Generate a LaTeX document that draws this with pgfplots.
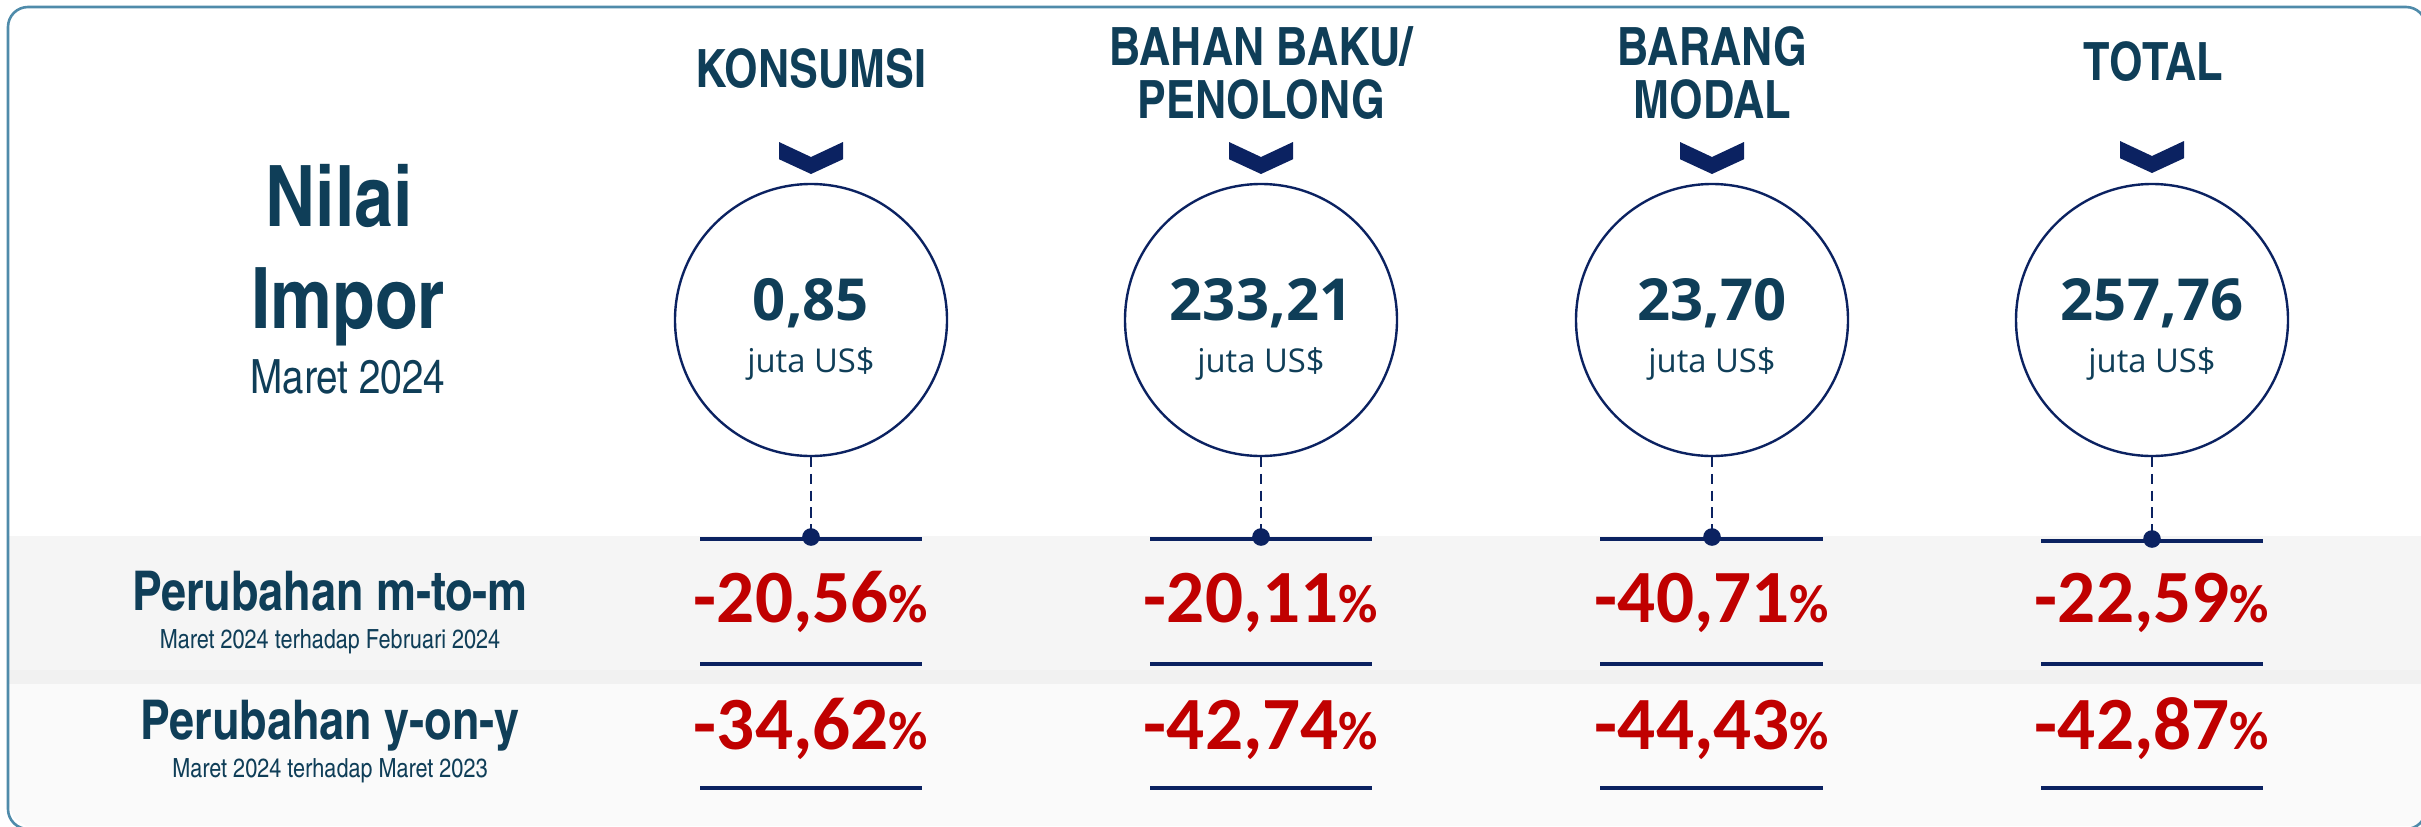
\documentclass[border=0pt]{standalone}
\usepackage{pgfplots}
\pgfplotsset{compat=1.18}
\usepackage{pgfplotstable}
\usepackage{fontspec}
\setmainfont{Liberation Sans}
\newfontfamily\cnfont{texgyreheroscn}[Extension=.otf, UprightFont=*-regular, BoldFont=*-bold]
\newfontfamily\osfont{Open Sans}
\newfontfamily\cafont{Carlito}
\definecolor{txt}{HTML}{0F3E58}
\definecolor{navy}{HTML}{0B2261}
\definecolor{redv}{HTML}{C00000}
\definecolor{brd}{HTML}{4F8BAA}
\definecolor{bandA}{HTML}{F5F5F5}
\definecolor{bandB}{HTML}{F1F1F1}
\definecolor{bandC}{HTML}{FAFAFA}

\pgfdeclareplotmark{chev}{%
  \pgfpathmoveto{\pgfpoint{-8pt}{4pt}}%
  \pgfpathlineto{\pgfpoint{0pt}{0.25pt}}%
  \pgfpathlineto{\pgfpoint{8pt}{4pt}}%
  \pgfpathlineto{\pgfpoint{8pt}{-0.3pt}}%
  \pgfpathlineto{\pgfpoint{0pt}{-4pt}}%
  \pgfpathlineto{\pgfpoint{-8pt}{-0.3pt}}%
  \pgfpathclose
  \pgfusepathqfill}

% x: column centre; cy: circle centre; ch: chevron centre; vy/jy: value and unit baselines
% dy: connector dot; my/yy: baselines of m-to-m and y-on-y changes
\pgfplotstableread{
x    cy   ch   vy   jy   dy   my   yy   val     mtm     yoy
811  320  158  320  372  537  622  749  0,85    -20,56  -34,62
1261 320  158  320  372  537  622  749  233,21  -20,11  -42,74
1712 320  158  320  372  537  622  749  23,70   -40,71  -44,43
2152 320  157  320  372  539  622  749  257,76  -22,59  -42,87
}\data

\begin{document}
\begin{tikzpicture}
\begin{axis}[
  scale only axis, width=605.25pt, height=206.5pt,
  xmin=0, xmax=2421, ymin=0, ymax=826, y dir=reverse,
  hide axis, clip=false,
  unbounded coords=jump,
]
\path (rel axis cs:0,0) rectangle (rel axis cs:1,1);

% background bands
\addplot[fill=bandA, draw=none] coordinates {(9,536) (2421,536) (2421,670) (9,670)} -- cycle;
\addplot[fill=bandB, draw=none] coordinates {(9,670) (2421,670) (2421,684) (9,684)} -- cycle;
\addplot[fill=bandC, draw=none] coordinates {(9,684) (2421,684) (2421,826) (26,826) (14,818) (9,806)} -- cycle;

% dashed connectors
\addplot[navy, line width=0.7pt, dash pattern=on 2.6pt off 1.6pt] table[row sep=\\] {
x y\\ 811 457\\ 811 537\\ nan nan\\ 1261 457\\ 1261 537\\ nan nan\\
1712 457\\ 1712 537\\ nan nan\\ 2152 457\\ 2152 539\\ };

% horizontal rules
\addplot[navy, line width=1.1pt] table[row sep=\\] {
x y\\ 700 539\\ 922 539\\ nan nan\\ 1150 539\\ 1372 539\\ nan nan\\
1600 539\\ 1823 539\\ nan nan\\ 2041 541\\ 2263 541\\ };
\addplot[navy, line width=1.1pt] table[row sep=\\] {
x y\\ 700 664\\ 922 664\\ nan nan\\ 1150 664\\ 1372 664\\ nan nan\\
1600 664\\ 1823 664\\ nan nan\\ 2041 664\\ 2263 664\\ };
\addplot[navy, line width=1.1pt] table[row sep=\\] {
x y\\ 700 788\\ 922 788\\ nan nan\\ 1150 788\\ 1372 788\\ nan nan\\
1600 788\\ 1823 788\\ nan nan\\ 2041 788\\ 2263 788\\ };

% connector dots
\addplot[only marks, mark=*, mark size=2pt, navy] table[x=x, y=dy] \data;

% circles
\addplot[only marks, mark=*, mark size=34pt,
  mark options={draw=navy, fill=white, line width=0.6pt}] table[x=x, y=cy] \data;

% chevrons
\addplot[only marks, mark=chev, navy, mark options={fill=navy}] table[x=x, y=ch] \data;

% values in circles
\addplot[draw=none, no marks, nodes near coords, point meta=explicit symbolic,
  nodes near coords style={anchor=base, text=txt, inner sep=0pt,
    font=\osfont\bfseries\fontsize{14.5}{16}\selectfont}] table[x=x, y=vy, meta=val] \data;
\addplot[draw=none, no marks, nodes near coords={juta US\$}, point meta=explicit symbolic,
  nodes near coords style={anchor=base, text=txt, inner sep=0pt,
    font=\osfont\fontsize{8.2}{10}\selectfont}] table[x=x, y=jy, meta=val] \data;

% percentage changes
\addplot[draw=none, no marks, point meta=explicit symbolic,
  nodes near coords={\pgfplotspointmeta{\fontsize{13.5}{15}\selectfont\%}},
  nodes near coords style={anchor=base, text=redv, inner sep=0pt,
    font=\cafont\bfseries\fontsize{18.8}{20}\selectfont}] table[x=x, y=my, meta=mtm] \data;
\addplot[draw=none, no marks, point meta=explicit symbolic,
  nodes near coords={\pgfplotspointmeta{\fontsize{13.5}{15}\selectfont\%}},
  nodes near coords style={anchor=base, text=redv, inner sep=0pt,
    font=\cafont\bfseries\fontsize{18.8}{20}\selectfont}] table[x=x, y=yy, meta=yoy] \data;

% column headings
\begin{scope}[every node/.style={anchor=base, text=txt, inner sep=0pt,
    font=\cnfont\bfseries\fontsize{13.2}{15}\selectfont}]
\node at (axis cs:811,87) {KONSUMSI};
\node at (axis cs:1261,65) {BAHAN BAKU/};
\node at (axis cs:1261,118) {PENOLONG};
\node at (axis cs:1712,65) {BARANG};
\node at (axis cs:1712,118) {MODAL};
\node at (axis cs:2153,80) {TOTAL};
\end{scope}

% left labels
\begin{scope}[every node/.style={anchor=base, text=txt, inner sep=0pt}]
\node[font=\cnfont\bfseries\fontsize{21.2}{24}\selectfont] at (axis cs:339,226) {Nilai};
\node[font=\cnfont\bfseries\fontsize{21.2}{24}\selectfont] at (axis cs:348,328) {Impor};
\node[font=\cnfont\fontsize{11.8}{14}\selectfont] at (axis cs:348,393) {Maret 2024};
\node[font=\cnfont\bfseries\fontsize{13.7}{16}\selectfont] at (axis cs:330,610) {Perubahan m-to-m};
\node[font=\cnfont\fontsize{6.6}{8}\selectfont] at (axis cs:330,648) {Maret 2024 terhadap Februari 2024};
\node[font=\cnfont\bfseries\fontsize{13.7}{16}\selectfont] at (axis cs:330,739) {Perubahan y-on-y};
\node[font=\cnfont\fontsize{6.6}{8}\selectfont] at (axis cs:330,777) {Maret 2024 terhadap Maret 2023};
\end{scope}

% outer frame
\draw[overlay, brd, line width=0.65pt, rounded corners=5pt] (axis cs:8,7) rectangle (axis cs:2426,829);
\end{axis}
\end{tikzpicture}
\end{document}
